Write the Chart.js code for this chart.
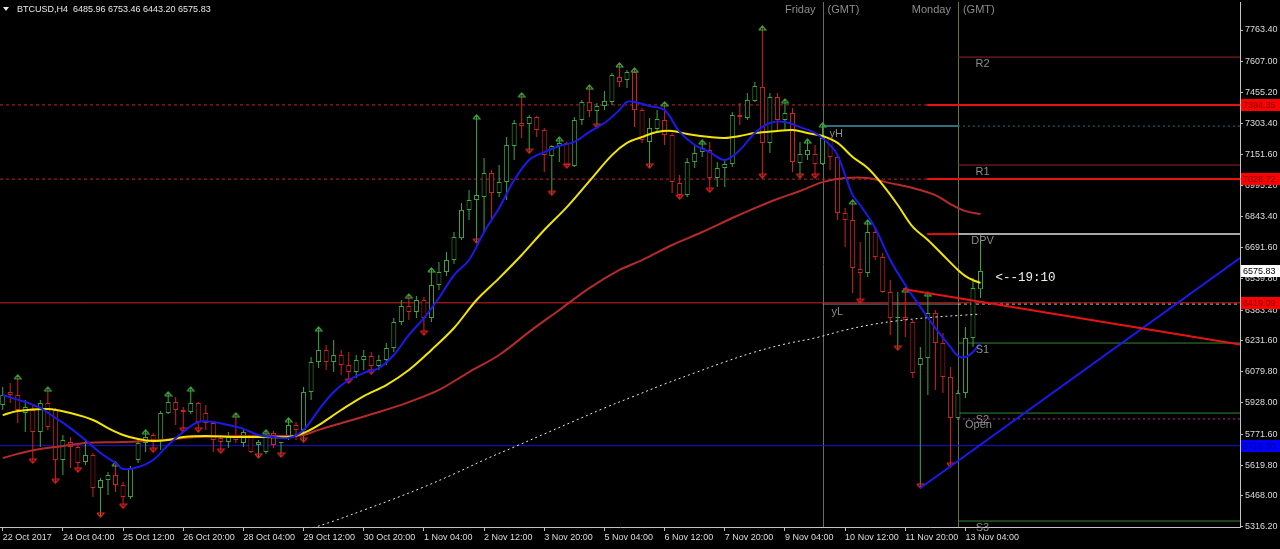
<!DOCTYPE html>
<html>
<head>
<meta charset="utf-8">
<script src="https://cdn.jsdelivr.net/npm/chart.js@4.4.1/dist/chart.umd.min.js"></script>
<style>
  html, body { margin: 0; padding: 0; background: #000; overflow: hidden; }
  canvas { display: block; }
</style>
</head>
<body>
<canvas id="chart" width="1280" height="549"></canvas>
<script>
// BTCUSD H4, one candle per 4 hours from 22 Oct 2017 20:00 to 13 Nov 2017 12:00
const opens = [
  5916, 5980, 5965, 5876, 5891, 5783, 5926, 5891, 5645, 5733,
  5709, 5635, 5669, 5507, 5546, 5571, 5522, 5462, 5645, 5729,
  5768, 5743, 5876, 5930, 5891, 5881, 5926, 5876, 5827, 5753,
  5733, 5768, 5729, 5758, 5719, 5684, 5778, 5728, 5758, 5817,
  5793, 5980, 6128, 6187, 6128, 6162, 6113, 6078, 6138, 6157,
  6108, 6138, 6197, 6325, 6403, 6374, 6433, 6344, 6507, 6571,
  6630, 6738, 6877, 6926, 6941, 7059, 6960, 7014, 7192, 7305,
  7300, 7335, 7271, 7142, 7192, 7207, 7093, 7320, 7409, 7364,
  7389, 7409, 7532, 7517, 7556, 7369, 7212, 7276, 7320, 7246,
  7009, 6950, 7113, 7162, 7172, 7034, 7084, 7103, 7345, 7330,
  7414, 7483, 7207, 7433, 7320, 7354, 7108, 7147, 7152, 7103,
  7231, 7138, 6862, 6827, 6586, 6566, 6768, 6645, 6472, 6344,
  6349, 6325, 6113, 6147, 6369, 6221, 6054, 5852, 5975, 6246,
  6485.96
];
const highs = [
  6004, 6024, 6064, 5940, 5916, 5940, 6004, 5901, 5768, 5758,
  5719, 5743, 5679, 5556, 5586, 5635, 5536, 5615, 5743, 5793,
  5778, 5886, 5980, 5955, 5906, 6004, 5930, 5916, 5832, 5768,
  5783, 5876, 5793, 5768, 5743, 5793, 5788, 5733, 5852, 5832,
  6004, 6152, 6300, 6211, 6236, 6187, 6177, 6162, 6187, 6177,
  6162, 6221, 6344, 6433, 6462, 6453, 6448, 6591, 6620, 6670,
  6768, 6911, 6975, 7345, 7133, 7074, 7098, 7236, 7320, 7453,
  7345, 7340, 7281, 7197, 7236, 7212, 7335, 7418, 7492, 7404,
  7463, 7551, 7601, 7566, 7576, 7379, 7330, 7369, 7409, 7256,
  7049, 7133, 7192, 7221, 7212, 7113, 7123, 7359, 7404, 7453,
  7507, 7783, 7453, 7453, 7423, 7379, 7212, 7226, 7197, 7305,
  7236, 7147, 6886, 6926, 6719, 6827, 6793, 6665, 6532, 6472,
  6492, 6335, 6202, 6472, 6384, 6271, 6103, 5990, 6300, 6541,
  6753.46
];
const lows = [
  5891, 5926, 5827, 5783, 5630, 5709, 5793, 5531, 5571, 5605,
  5586, 5620, 5462, 5364, 5472, 5487, 5408, 5453, 5630, 5684,
  5684, 5694, 5871, 5817, 5783, 5871, 5783, 5793, 5684, 5679,
  5704, 5729, 5709, 5679, 5655, 5674, 5704, 5660, 5743, 5743,
  5733, 5940, 6098, 6088, 6078, 6064, 6024, 6049, 6088, 6069,
  6088, 6113, 6177, 6310, 6335, 6344, 6261, 6325, 6482, 6551,
  6610, 6729, 6827, 6714, 6763, 6827, 6941, 6926, 7123, 7231,
  7157, 7236, 7064, 6950, 7113, 7084, 7088, 7295, 7335, 7281,
  7369, 7394, 7483, 7478, 7286, 7207, 7084, 7256, 7197, 6960,
  6931, 6941, 7084, 7138, 6965, 6990, 6990, 7088, 7295, 7320,
  7409, 7034, 7157, 7271, 7271, 7064, 7034, 7123, 7034, 7098,
  7074, 6827, 6694, 6468, 6418, 6546, 6630, 6468, 6261, 6187,
  6251, 6049, 5507, 5965, 5990, 5975, 5610, 5842, 5950, 6202,
  6443.20
];
const closes = [
  5965, 5965, 5891, 5906, 5783, 5926, 5807, 5645, 5743, 5709,
  5630, 5669, 5507, 5546, 5571, 5522, 5462, 5605, 5729, 5758,
  5743, 5876, 5930, 5891, 5881, 5926, 5832, 5827, 5743, 5733,
  5758, 5743, 5783, 5684, 5733, 5768, 5719, 5733, 5817, 5793,
  5980, 6128, 6187, 6128, 6162, 6113, 6078, 6138, 6157, 6108,
  6138, 6197, 6325, 6403, 6374, 6433, 6344, 6507, 6571, 6630,
  6743, 6877, 6926, 6950, 7059, 6960, 7014, 7197, 7305, 7290,
  7335, 7271, 7147, 7192, 7207, 7098, 7320, 7409, 7364, 7389,
  7414, 7542, 7507, 7556, 7369, 7221, 7281, 7325, 7246, 7014,
  6950, 7113, 7157, 7182, 7034, 7084, 7103, 7345, 7335, 7418,
  7487, 7207, 7433, 7320, 7354, 7113, 7152, 7172, 7103, 7231,
  7138, 6862, 6827, 6591, 6566, 6768, 6645, 6472, 6345, 6349,
  6335, 6073, 6147, 6369, 6221, 6054, 5852, 5975, 6246, 6492,
  6575.83
];

// fractal marks (candle indexes)
const upFractals = [2, 6, 15, 19, 22, 25, 31, 35, 38, 42, 54, 57, 63, 69, 74, 78, 82, 84, 88, 93, 101, 104, 107, 109, 113, 115, 120, 123];
const downFractals = [4, 7, 10, 13, 16, 20, 24, 26, 29, 34, 37, 40, 46, 49, 56, 63, 70, 73, 75, 79, 86, 90, 94, 101, 106, 108, 114, 119, 122, 126];

const xLabels = ["22 Oct 2017", "24 Oct 04:00", "25 Oct 12:00", "26 Oct 20:00", "28 Oct 04:00", "29 Oct 12:00",
  "30 Oct 20:00", "1 Nov 04:00", "2 Nov 12:00", "3 Nov 20:00", "5 Nov 04:00", "6 Nov 12:00", "7 Nov 20:00",
  "9 Nov 04:00", "10 Nov 12:00", "11 Nov 20:00", "13 Nov 04:00"];
const yTicks = [7763.40, 7607.00, 7455.20, 7303.40, 7151.60, 6995.20, 6843.40, 6691.60, 6539.80,
  6383.40, 6231.60, 6079.80, 5928.00, 5771.60, 5619.80, 5468.00, 5316.20];

// moving averages: candle index -> price
const maBlueIdx = [0, 3, 5, 7, 9, 11, 13, 15, 16, 18, 20, 22, 24, 26, 28, 30, 32, 34, 36, 38, 40, 42, 44, 46, 48, 50, 52, 54, 56, 58,
  60, 62, 64, 66, 68, 70, 72, 74, 76, 78, 80, 82, 83, 84, 86, 88, 90, 92, 94, 96, 98, 100, 102, 104, 106, 108, 110, 111, 112, 113,
  114, 116, 118, 120, 122, 124, 126, 127, 128, 129, 130];
const maBlue = [5965, 5930, 5901, 5852, 5802, 5743, 5679, 5630, 5600, 5610, 5645, 5719, 5783, 5832, 5832, 5817, 5798, 5768, 5758, 5753,
  5793, 5891, 5980, 6039, 6074, 6098, 6162, 6261, 6344, 6443, 6556, 6630, 6768, 6886, 7024, 7123, 7162, 7192, 7212, 7261,
  7305, 7369, 7409, 7409, 7389, 7369, 7261, 7197, 7162, 7123, 7172, 7256, 7305, 7310, 7285, 7256, 7197, 7147, 7049, 6950,
  6901, 6788, 6630, 6507, 6399, 6295, 6202, 6157, 6152, 6177, 6221];
const maYellowIdx = [0, 2, 6, 9, 12, 14, 16, 18, 20, 22, 24, 27, 31, 35, 38, 40, 42, 45, 48, 51, 54, 57, 60, 63, 66, 69, 72, 75, 78, 81,
  83, 85, 87, 89, 91, 94, 96, 98, 100, 103, 105, 107, 109, 111, 113, 115, 117, 119, 121, 123, 125, 127, 128, 129, 130];
const maYellow = [5866, 5886, 5896, 5876, 5842, 5802, 5768, 5748, 5738, 5743, 5758, 5763, 5758, 5758, 5758, 5778, 5817, 5891, 5960, 6014,
  6088, 6187, 6295, 6433, 6541, 6655, 6778, 6891, 7019, 7147, 7207, 7236, 7261, 7266, 7251, 7236, 7231, 7241, 7256, 7266,
  7271, 7256, 7241, 7207, 7138, 7084, 7000, 6901, 6793, 6729, 6655, 6581, 6551, 6531, 6517];
const maRedIdx = [0, 3, 5, 8, 11, 16, 21, 26, 32, 38, 40, 42, 46, 50, 54, 58, 62, 66, 70, 74, 78, 82, 85, 89, 93, 97, 100, 103, 106, 109,
  112, 115, 118, 121, 124, 126, 128, 130];
const maRed = [5655, 5684, 5699, 5714, 5729, 5733, 5743, 5758, 5763, 5763, 5768, 5793, 5837, 5881, 5930, 5990, 6078, 6162, 6276, 6384,
  6492, 6581, 6630, 6704, 6768, 6837, 6886, 6931, 6970, 7014, 7034, 7034, 7009, 6985, 6950, 6906, 6871, 6857];
const maWhiteIdx = [40, 44, 48, 52, 56, 60, 64, 68, 72, 76, 80, 84, 88, 92, 96, 100, 104, 108, 112, 116, 120, 124, 128, 130];
const maWhite = [5295, 5344, 5398, 5453, 5512, 5576, 5645, 5709, 5773, 5837, 5901, 5960, 6019, 6074, 6128, 6177, 6216, 6246, 6285, 6315,
  6335, 6349, 6359, 6364];

// levels
const resistLevels = [7394.35, 7028.72];
const supportLevel = 6419.09;
const blueLevel = 5715.30;
const lastPrice = 6575.83;
const pivotNames = ["R2", "R1", "DPV", "S1", "S2", "S3"];
const pivotValues = [7630, 7098, 6758, 6221, 5876, 5344];
const openLevel = 5847;
const yHigh = 7290;
const yLow = 6413;
// trend lines: [candle index, price]
const redTrend = [[119.7, 6487], [164.5, 6214]];
const blueTrend = [[122, 5507], [164.5, 6640]];
const fridayIdx = 109, mondayIdx = 127;

const X_MIN = -0.36, X_MAX = 164.5, TAG_START = 122.9;
const BULL = '#3fa63f', BEAR = '#d22222';

Chart.defaults.font.family = '"Liberation Sans", Arial, sans-serif';
Chart.defaults.font.size = 9;

const candleIdx = opens.map((_, i) => i);
const isBull = i => closes[i] >= opens[i];

function arrowImage(color, up) {
  const c = document.createElement('canvas');
  c.width = 9; c.height = 12;
  const g = c.getContext('2d');
  g.strokeStyle = color; g.lineWidth = 1.2;
  g.beginPath();
  if (up) { g.moveTo(1, 10); g.lineTo(4.5, 6); g.lineTo(8, 10); g.lineTo(1, 10); }
  else { g.moveTo(1, 2); g.lineTo(4.5, 6); g.lineTo(8, 2); g.lineTo(1, 2); }
  g.stroke();
  return c;
}

function seg(x0, x1, v, color, width, dash, order) {
  return {
    type: 'line', data: [{x: x0, y: v}, {x: x1, y: v}], borderColor: color, borderWidth: width,
    borderDash: dash || [], pointRadius: 0, order: order || 10
  };
}
function maLine(idx, vals, color, width, dash, order) {
  return {
    type: 'line', data: idx.map((x, k) => ({x, y: vals[k]})), borderColor: color, borderWidth: width,
    borderDash: dash || [], pointRadius: 0, tension: 0.35, order
  };
}

const datasets = [
  // horizontal levels
  ...resistLevels.flatMap(v => [seg(X_MIN, TAG_START, v, '#c82020', 1, [3, 3]), seg(TAG_START, X_MAX, v, '#ee1010', 2)]),
  seg(X_MIN, X_MAX, supportLevel, '#d42020', 1),
  seg(X_MIN, X_MAX, blueLevel, '#1414d8', 1),
  seg(fridayIdx, mondayIdx, yHigh, '#2f6f7c', 2),
  seg(mondayIdx, X_MAX, yHigh, '#2f6f7c', 1, [2, 3]),
  seg(fridayIdx, mondayIdx, yLow, '#707a84', 1),
  seg(mondayIdx, X_MAX, yLow, '#c8c8c8', 1, [3, 3]),
  seg(TAG_START, mondayIdx, pivotValues[2], '#e01010', 2),
  seg(mondayIdx, X_MAX, pivotValues[2], '#a8a8a8', 2),
  seg(mondayIdx, X_MAX, pivotValues[0], '#9a2424', 1),
  seg(mondayIdx, X_MAX, pivotValues[1], '#9a2424', 1),
  seg(mondayIdx, X_MAX, pivotValues[3], '#2f8a2f', 1),
  seg(mondayIdx, X_MAX, pivotValues[4], '#2f8a2f', 1),
  seg(mondayIdx, X_MAX, pivotValues[5], '#2f8a2f', 1),
  seg(mondayIdx, X_MAX, openLevel, '#c020b0', 1, [2, 3]),
  // candles
  {
    type: 'bar', data: candleIdx.map(i => ({x: i, y: [lows[i], highs[i]]})),
    backgroundColor: ctx => isBull(ctx.dataIndex) ? BULL : BEAR,
    borderWidth: 0, barThickness: 1, grouped: false, inflateAmount: 0, order: 8
  },
  {
    type: 'bar', data: candleIdx.map(i => ({x: i, y: [opens[i], closes[i]]})),
    backgroundColor: '#000', borderColor: ctx => isBull(ctx.dataIndex) ? BULL : BEAR,
    borderWidth: 1, borderSkipped: false, barThickness: 5, grouped: false, inflateAmount: 0,
    minBarLength: 1, order: 7
  },
  // fractal arrows
  {
    type: 'line', data: upFractals.map(i => ({x: i, y: highs[i]})), showLine: false,
    pointStyle: arrowImage('#3fa63f', true), pointRadius: 4, order: 6
  },
  {
    type: 'line', data: downFractals.map(i => ({x: i, y: lows[i]})), showLine: false,
    pointStyle: arrowImage('#e02020', false), pointRadius: 4, order: 6
  },
  // moving averages
  maLine(maWhiteIdx, maWhite, '#e8e8e8', 1, [2, 3], 5),
  maLine(maRedIdx, maRed, '#b52a2a', 2, null, 4),
  maLine(maYellowIdx, maYellow, '#f2e600', 2, null, 3),
  maLine(maBlueIdx, maBlue, '#1a1aee', 2, null, 2),
  // trend lines
  {type: 'line', data: redTrend.map(p => ({x: p[0], y: p[1]})), borderColor: '#e81414', borderWidth: 2, pointRadius: 0, order: 1},
  {type: 'line', data: blueTrend.map(p => ({x: p[0], y: p[1]})), borderColor: '#1a1af0', borderWidth: 2, pointRadius: 0, order: 1}
];

const overlay = {
  id: 'overlay',
  beforeDatasetsDraw(chart) {
    const {ctx, chartArea: a, scales: {x}} = chart;
    ctx.save();
    ctx.strokeStyle = '#66763a';
    ctx.lineWidth = 1;
    [fridayIdx, mondayIdx].forEach(i => {
      const px = Math.round(x.getPixelForValue(i)) + 0.5;
      ctx.beginPath(); ctx.moveTo(px, a.top); ctx.lineTo(px, a.bottom); ctx.stroke();
    });
    ctx.restore();
  },
  afterDatasetsDraw(chart) {
    const {ctx, scales: {x, y}} = chart;
    ctx.save();
    // session labels
    ctx.font = '11px "Liberation Sans"';
    ctx.fillStyle = '#8c8c8c';
    ctx.textBaseline = 'middle';
    [[fridayIdx, 'Friday'], [mondayIdx, 'Monday']].forEach(([i, name]) => {
      const px = x.getPixelForValue(i);
      ctx.textAlign = 'right'; ctx.fillText(name, px - 7, 10);
      ctx.textAlign = 'left'; ctx.fillText('(GMT)', px + 5, 10);
    });
    // pivot labels centred on the last bar
    ctx.font = '11px "Liberation Sans"';
    ctx.textAlign = 'center';
    ctx.textBaseline = 'top';
    const lx = x.getPixelForValue(opens.length - 1) + 2;
    pivotNames.forEach((n, k) => ctx.fillText(n, lx, y.getPixelForValue(pivotValues[k]) + 1));
    ctx.fillText('Open', lx - 4, y.getPixelForValue(openLevel) + 1);
    ctx.textAlign = 'left';
    const fx = x.getPixelForValue(fridayIdx);
    ctx.fillText('yH', fx + 7, y.getPixelForValue(yHigh) + 2);
    ctx.fillText('yL', fx + 9, y.getPixelForValue(yLow) + 2);
    // time to bar close
    ctx.font = '12.5px "Liberation Mono"';
    ctx.fillStyle = '#f0f0f0';
    ctx.textBaseline = 'middle';
    ctx.fillText('<--19:10', x.getPixelForValue(opens.length - 1) + 15, y.getPixelForValue(lastPrice) + 7);
    ctx.restore();
  },
  afterDraw(chart) {
    const {ctx, scales: {y}} = chart;
    ctx.save();
    // price tags on the axis
    const tags = [
      [resistLevels[0], '#ff0000', '#7a0000'],
      [resistLevels[1], '#ff0000', '#7a0000'],
      [lastPrice, '#ffffff', '#000000'],
      [supportLevel, '#ff0000', '#7a0000'],
      [blueLevel, '#0000ff', '#00007a']
    ];
    ctx.font = '9px "Liberation Sans"';
    ctx.textBaseline = 'middle';
    ctx.textAlign = 'left';
    tags.forEach(([v, bg, fg]) => {
      const py = Math.round(y.getPixelForValue(v));
      ctx.fillStyle = bg;
      ctx.fillRect(1241, py - 6, 39, 12);
      ctx.fillStyle = fg;
      ctx.fillText(v.toFixed(2), 1243, py + 0.5);
    });
    // symbol header
    ctx.fillStyle = '#e8e8e8';
    ctx.beginPath(); ctx.moveTo(3, 7); ctx.lineTo(9, 7); ctx.lineTo(6, 11); ctx.closePath(); ctx.fill();
    ctx.fillText('BTCUSD,H4  ' + [opens, highs, lows, closes].map(a => a[a.length - 1].toFixed(2)).join(' '), 17, 9.5);
    ctx.restore();
  }
};

new Chart(document.getElementById('chart'), {
  type: 'bar',
  data: {datasets},
  options: {
    responsive: false,
    animation: false,
    devicePixelRatio: 1,
    events: [],
    layout: {autoPadding: false, padding: {top: 2, left: 0, right: 0, bottom: 0}},
    plugins: {legend: {display: false}, tooltip: {enabled: false}},
    scales: {
      x: {
        type: 'linear', min: X_MIN, max: X_MAX, offset: false,
        afterBuildTicks: s => { s.ticks = xLabels.map((_, k) => ({value: k * 8})); },
        afterFit: s => { s.height = 22; s.paddingLeft = 0; s.paddingRight = 0; },
        ticks: {
          color: '#dcdcdc', align: 'start', autoSkip: false, maxRotation: 0, padding: 1,
          callback: v => xLabels[Math.round(v / 8)]
        },
        grid: {drawOnChartArea: false, offset: false, color: '#bdbdbd', tickLength: 4},
        border: {display: true, color: '#c4c4c4'}
      },
      y: {
        position: 'right', min: 5314.6, max: 7901.4,
        afterBuildTicks: s => { s.ticks = yTicks.map(v => ({value: v})); },
        afterFit: s => { s.width = 40; s.paddingTop = 0; s.paddingBottom = 0; },
        ticks: {color: '#dcdcdc', autoSkip: false, padding: 2, callback: v => v.toFixed(2)},
        grid: {drawOnChartArea: false, color: '#bdbdbd', tickLength: 3},
        border: {display: true, color: '#c4c4c4'}
      }
    }
  },
  plugins: [overlay]
});
</script>
</body>
</html>
